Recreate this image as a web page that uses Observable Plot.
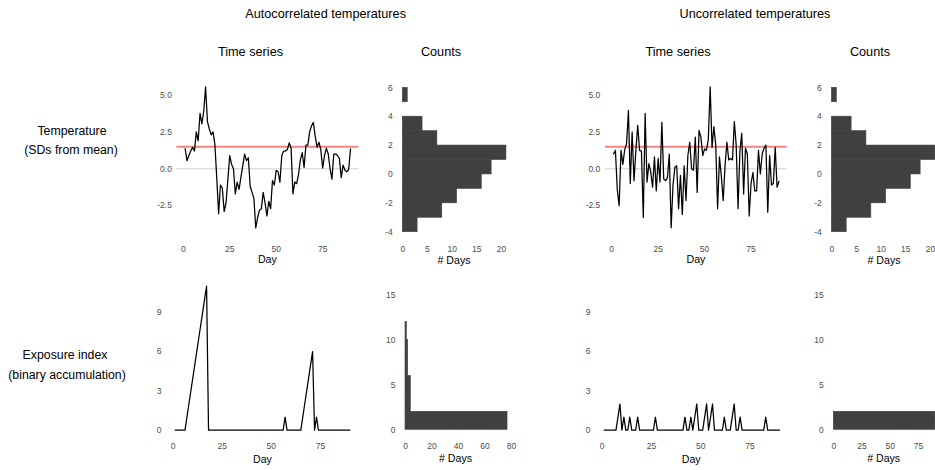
<!DOCTYPE html>
<html><head><meta charset="utf-8">
<script src="https://cdn.jsdelivr.net/npm/d3@7"></script>
<script src="https://cdn.jsdelivr.net/npm/@observablehq/plot@0.6"></script>
<style>
body{margin:0;background:#fff;}
#fig{position:relative;width:935px;height:470px;overflow:hidden;font-family:"Liberation Sans",Arial,Helvetica,sans-serif;background:#fff;}
.t{position:absolute;white-space:nowrap;transform:translate(-50%,-50%);color:#000;line-height:1;}
.pn svg{max-width:none !important;}
</style></head><body><div id="fig"></div><script>
// ---------- data ----------
const days = d3.range(1, 91);
const autoTemp = [1.36,0.55,0.9,1.2,1.45,1.2,2.5,1.9,3.75,3.05,
 3.9,5.55,3.2,2.7,2.3,2.5,1.65,-0.6,-3.05,-1.1,
 -1.3,-2.9,-2.3,-0.7,0.9,0.3,0.0,-1.7,-0.9,-1.4,
 -0.6,0.2,1.0,0.55,0.75,-1.2,-1.6,-2.0,-4.0,-3.3,
 -2.8,-2.7,-1.6,-2.3,-3.2,-2.2,-2.7,-0.8,-1.1,-0.1,
 -0.2,-0.9,0.9,1.2,1.2,1.3,1.75,1.45,-1.7,-0.9,
 -1.0,-0.4,0.6,1.1,0.1,1.6,1.6,2.5,2.9,3.15,
 2.2,1.45,1.8,1.3,0.05,0.9,1.4,1.0,0.0,-0.7,
 1.0,1.0,0.9,0.7,-0.6,0.25,-0.1,-0.2,-0.05,1.35];
const uncorTemp = [1.0,1.25,-1.4,-2.5,1.25,0.3,1.3,1.7,3.95,-1.0,
 2.5,-0.8,1.2,2.95,1.25,1.2,-3.3,3.75,-0.9,0.35,
 -0.2,-1.25,0.8,-1.5,0.7,-0.9,3.15,-0.7,-0.8,-0.6,
 1.0,-4.0,-1.1,0.1,0.2,-2.7,-0.45,-3.1,0.2,-2.15,
 0.9,1.8,0.0,-0.1,2.15,-1.6,2.6,2.15,0.9,1.35,
 1.25,2.0,5.55,1.45,2.85,1.6,-2.7,0.8,-0.5,-2.15,
 0.2,1.8,0.6,0.7,0.6,3.2,1.6,-2.7,1.2,2.4,
 -1.7,1.4,1.0,-3.2,-1.0,-0.25,-1.5,-1.5,1.25,-0.35,
 1.0,1.4,1.6,-2.95,0.9,-1.1,-1.0,1.45,-1.25,-0.85];
const autoExposure = [0,0,0,0,0,0,1,2,3,4, 5,6,7,8,9,10,11,0,0,0,
 0,0,0,0,0,0,0,0,0,0, 0,0,0,0,0,0,0,0,0,0,
 0,0,0,0,0,0,0,0,0,0, 0,0,0,0,0,0,1,0,0,0,
 0,0,0,0,0,1,2,3,4,5, 6,0,1,0,0,0,0,0,0,0,
 0,0,0,0,0,0,0,0,0,0];
const uncorExposure = [0,0,0,0,0,0,0,1,2,0, 1,0,0,1,0,0,0,1,0,0,
 0,0,0,0,0,0,1,0,0,0, 0,0,0,0,0,0,0,0,0,0,
 0,1,0,0,1,0,1,2,0,0, 0,1,2,0,1,2,0,0,0,0,
 0,1,0,0,0,1,2,0,0,1, 0,0,0,0,0,0,0,0,0,0,
 0,0,1,0,0,0,0,0,0,0];
const threshold = 1.5;
const tempBinLo = [-4,-3,-2,-1,0,1,2,3,4,5];
const tempBinHi = [-3,-2,-1,0,1,2,3,4,5,6];
const autoTempCounts = [3,8,11,16,18,21,7,4,0,1];
const uncorTempCounts = [3,8,11,16,18,21,7,4,0,1];
const expBinLo = [0,2,4,6,8,10];
const expBinHi = [2,4,6,8,10,12];
const autoExpCounts = [77,4,4,2,2,1];
const uncorExpCounts = [90,0,0,0,0,0];
const tempTicks = [-2.5,0,2.5,5];
const dayTicks = [0,25,50,75];
const tempHistTicks = [-4,-2,0,2,4,6];
const countTicks = [0,5,10,15,20];
const expTicks = [0,3,6,9];
const expHistTicks = [0,5,10,15];
const expCountTicksA = [0,20,40,60,80];
const expCountTicksB = [0,25,50,75];

// ---------- drawing ----------
const fig = document.getElementById("fig");
const FONT = '"Liberation Sans", Arial, Helvetica, sans-serif';
const TICK = "#4d4d4d";
const HISTFILL = "#404040";

function label(txt, x, y, size, color) {
  const d = document.createElement("div");
  d.className = "t";
  d.textContent = txt;
  d.style.left = x + "px"; d.style.top = y + "px";
  d.style.fontSize = size + "px";
  if (color) d.style.color = color;
  fig.appendChild(d);
}

function panel(o) {
  const ml = o.xPx[0] - o.left, mr = o.left + o.width - o.xPx[1];
  const mt = o.yPx[0] - o.top, mb = o.top + o.height - o.yPx[1];
  const p = Plot.plot({
    width: o.width, height: o.height,
    marginLeft: ml, marginRight: mr, marginTop: mt, marginBottom: mb,
    style: {fontFamily: FONT, background: "transparent", overflow: "visible", maxWidth: "none"},
    x: {domain: o.xDomain, label: null},
    y: {domain: o.yDomain, label: null},
    marks: [
      ...o.marks,
      Plot.axisX({ticks: o.xTicks, tickSize: 0, tickPadding: o.xPad, fontSize: 8.5, fill: TICK, stroke: "none", tickFormat: o.xFmt || (d => String(d)), label: null}),
      Plot.axisY({ticks: o.yTicks, tickSize: 0, tickPadding: 5, fontSize: 8.5, fill: TICK, stroke: "none", tickFormat: o.yFmt || (d => String(d)), label: null})
    ]
  });
  const d = document.createElement("div");
  d.className = "pn";
  d.style.cssText = `position:absolute;left:${o.left}px;top:${o.top}px;width:${o.width}px;height:${o.height}px;`;
  d.appendChild(p);
  fig.appendChild(d);
}

function seriesMarks(temp) {
  const rows = days.map((d, i) => ({day: d, v: temp[i]}));
  return [
    Plot.ruleY([0], {stroke: "#d0d0d0", strokeWidth: 1}),
    Plot.ruleY([threshold], {stroke: "#f03030", strokeOpacity: 0.6, strokeWidth: 2}),
    Plot.line(rows, {x: "day", y: "v", stroke: "black", strokeWidth: 1.25})
  ];
}
function histMarks(lo, hi, counts) {
  const rows = lo.map((l, i) => ({lo: l, hi: hi[i], n: counts[i]})).filter(r => r.n > 0);
  return [Plot.rectX(rows, {y1: "lo", y2: "hi", x1: 0, x2: "n", fill: HISTFILL, stroke: HISTFILL, strokeWidth: 0.6, inset: 0})];
}
function expMarks(exp) {
  const rows = days.map((d, i) => ({day: d, v: exp[i]}));
  return [Plot.line(rows, {x: "day", y: "v", stroke: "black", strokeWidth: 1.25})];
}

const tsX = [-3.45, 94.45], tsY = [-4.48, 6.03];
const f1 = d => d.toFixed(1);
// A: autocorrelated time series
panel({left: 125, top: 70, width: 245, height: 200,
  xPx: [182.8 - 3.45*1.858, 182.8 + 94.45*1.858], yPx: [168.3 - 6.03*14.76, 168.3 + 4.48*14.76],
  xDomain: tsX, yDomain: tsY, xTicks: dayTicks, yTicks: tempTicks, yFmt: f1, xPad: 10.9,
  marks: seriesMarks(autoTemp)});
// C: uncorrelated time series
panel({left: 555, top: 70, width: 245, height: 200,
  xPx: [611.2 - 3.45*1.858, 611.2 + 94.45*1.858], yPx: [168.3 - 6.03*14.76, 168.3 + 4.48*14.76],
  xDomain: tsX, yDomain: tsY, xTicks: dayTicks, yTicks: tempTicks, yFmt: f1, xPad: 10.9,
  marks: seriesMarks(uncorTemp)});
// B: counts (auto)
const hY = [-4.5, 6.5], hX = [-1.05, 22.05];
panel({left: 375, top: 70, width: 150, height: 200,
  xPx: [402.3 - 1.05*4.935, 402.3 + 22.05*4.935], yPx: [87.3 - 0.5*14.44, 87.3 + 10.5*14.44],
  xDomain: hX, yDomain: hY, xTicks: countTicks, yTicks: tempHistTicks, xPad: 6.4,
  marks: histMarks(tempBinLo, tempBinHi, autoTempCounts)});
// D: counts (uncor)
panel({left: 805, top: 70, width: 150, height: 200,
  xPx: [831.4 - 1.05*4.93, 831.4 + 22.05*4.93], yPx: [87.3 - 0.5*14.44, 87.3 + 10.5*14.44],
  xDomain: hX, yDomain: hY, xTicks: countTicks, yTicks: tempHistTicks, xPad: 6.4,
  marks: histMarks(tempBinLo, tempBinHi, uncorTempCounts)});
// E: exposure (auto)
const eY = [-0.55, 11.55];
panel({left: 125, top: 275, width: 245, height: 195,
  xPx: [172.7 - 3.45*1.963, 172.7 + 94.45*1.963], yPx: [429.7 - 11.55*13.1, 429.7 + 0.55*13.1],
  xDomain: tsX, yDomain: eY, xTicks: dayTicks, yTicks: expTicks, xPad: 5.8,
  marks: expMarks(autoExposure)});
// G: exposure (uncor)
panel({left: 555, top: 275, width: 245, height: 195,
  xPx: [601.7 - 3.45*1.97, 601.7 + 94.45*1.97], yPx: [429.7 - 11.55*13.1, 429.7 + 0.55*13.1],
  xDomain: tsX, yDomain: eY, xTicks: dayTicks, yTicks: expTicks, xPad: 5.8,
  marks: expMarks(uncorExposure)});
// F: exposure counts (auto)
const ehY = [-0.75, 15.75];
panel({left: 375, top: 275, width: 150, height: 195,
  xPx: [405 - 3.85*1.325, 405 + 80.85*1.325], yPx: [429.3 - 15.75*9, 429.3 + 0.75*9],
  xDomain: [-3.85, 80.85], yDomain: ehY, xTicks: expCountTicksA, yTicks: expHistTicks, xPad: 6.65,
  marks: histMarks(expBinLo, expBinHi, autoExpCounts)});
// H: exposure counts (uncor)
panel({left: 805, top: 275, width: 150, height: 195,
  xPx: [833.3 - 4.5*1.129, 833.3 + 94.5*1.129], yPx: [429.3 - 15.75*9, 429.3 + 0.75*9],
  xDomain: [-4.5, 94.5], yDomain: ehY, xTicks: expCountTicksB, yTicks: expHistTicks, xPad: 6.65,
  marks: histMarks(expBinLo, expBinHi, uncorExpCounts)});

// ---------- titles ----------
label("Autocorrelated temperatures", 325.6, 14, 12.7);
label("Uncorrelated temperatures", 755, 14, 12.7);
label("Time series", 250.5, 52.3, 12.7);
label("Counts", 441, 52.3, 12.7);
label("Time series", 678, 52.3, 12.7);
label("Counts", 870, 52.3, 12.7);
label("Temperature", 72, 131, 12.3);
label("(SDs from mean)", 71, 149.5, 12.3);
label("Exposure index", 65, 355, 12.3);
label("(binary accumulation)", 67, 375, 12.3);
label("Day", 267.4, 259, 10.6);
label("# Days", 454, 260, 10.6);
label("Day", 696, 259, 10.6);
label("# Days", 884, 260, 10.6);
label("Day", 262.5, 458.7, 10.6);
label("# Days", 455.5, 458.3, 10.6);
label("Day", 691.2, 458.7, 10.6);
label("# Days", 883.7, 458.3, 10.6);
</script></body></html>
